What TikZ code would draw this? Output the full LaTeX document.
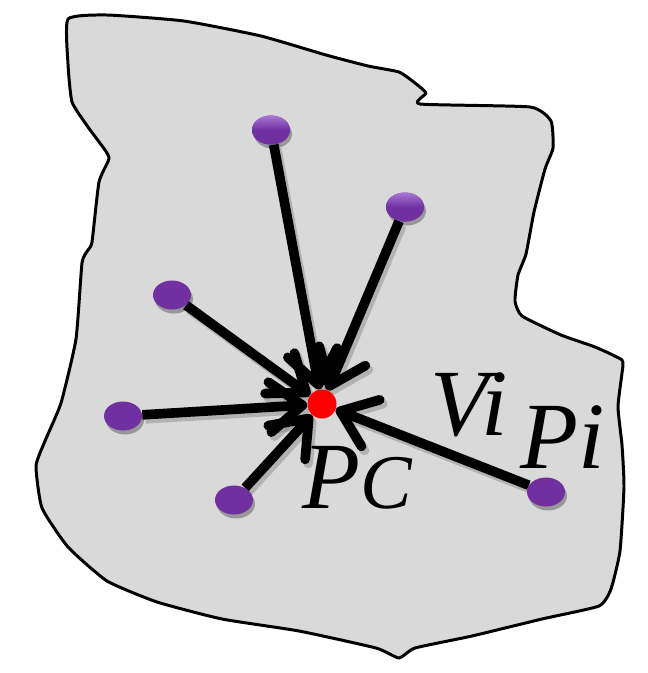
\documentclass[tikz,border=0pt]{standalone}
\usepackage{fontspec}
\newfontfamily\lblfont{Liberation Serif}[ItalicFont={Liberation Serif Italic}]
\usetikzlibrary{arrows.meta,shapes.geometric,shadows,backgrounds}

\definecolor{blobgray}{HTML}{D9D9D9}
\definecolor{dotpurple}{HTML}{7030A0}
\definecolor{dotlight}{HTML}{A977D6}

\tikzset{
  dot/.style={ellipse, fill=dotpurple, minimum width=7.6mm, minimum height=5.8mm, inner sep=0pt,
    drop shadow={shadow xshift=0.4mm, shadow yshift=-0.8mm, opacity=0.3, fill=black}},
  shinydot/.style={dot, top color=dotlight, bottom color=dotpurple, middle color=dotpurple},
  centre/.style={circle, fill=red, minimum size=5.8mm, inner sep=0pt},
  link/.style={line width=5.5pt, -{Straight Barb[length=6.5mm,width=10mm,round]}},
  linkshadow/.style={link, draw=black!45, opacity=0.5, transform canvas={shift={(0.6mm,-0.8mm)}}},
  lbl/.style={font=\lblfont\itshape\fontsize{54}{60}\selectfont, inner sep=0pt, anchor=base west}
}
\newcommand\smallcap[1]{{\fontsize{44}{50}\selectfont #1}}

\begin{document}
\begin{tikzpicture}[x=0.2mm,y=-0.2mm]
\useasboundingbox (0,0) rectangle (648,673);
% region
\begin{scope}[on background layer]
  \draw[line width=1.7pt, fill=blobgray, line join=round]
    plot[smooth cycle, tension=0.3] coordinates {
      (68,19) (107,15) (184,21) (261,36) (326,55) (368,66) (399,72) (415,83)
      (426,93) (420,104) (530,107) (551,121) (553,148) (545,169) (534,212)
      (526,254) (518,275) (515,301) (522,316) (561,335) (595,347) (622,360)
      (622,373) (618,407) (622,445) (624,487) (620,551) (611,589) (599,606)
      (542,619) (472,636) (415,648) (399,658) (376,648) (299,631) (222,619)
      (157,602) (107,581) (68,547) (42,508) (36,466) (45,441) (61,403)
      (76,339) (82,263) (88,250) (92,242) (99,182) (109,159) (105,150)
      (88,127) (72,102) (68,64)};
\end{scope}
% points
\node[centre] (pc) at (322,404) {};
\node[shinydot] (p1) at (271,130) {};
\node[shinydot] (p2) at (405,207) {};
\node[dot] (p3) at (172,295) {};
\node[dot] (p4) at (123,416) {};
\node[dot] (p5) at (234,500) {};
\node[dot] (p6) at (546,492) {};
% vectors
\begin{scope}[on background layer]
  \foreach \p in {p1,p2,p3,p4,p5,p6} { \draw[linkshadow] (\p) -- (pc); }
  \foreach \p in {p1,p2,p3,p4,p5,p6} { \draw[link] (\p) -- (pc); }
\end{scope}
% labels
\node[lbl] (lpc) at (302,508) {P\smallcap{C}};
\node[lbl] (lvi) at (430,435) {Vi};
\node[lbl] (lpi) at (520,468) {Pi};
\end{tikzpicture}
\end{document}
